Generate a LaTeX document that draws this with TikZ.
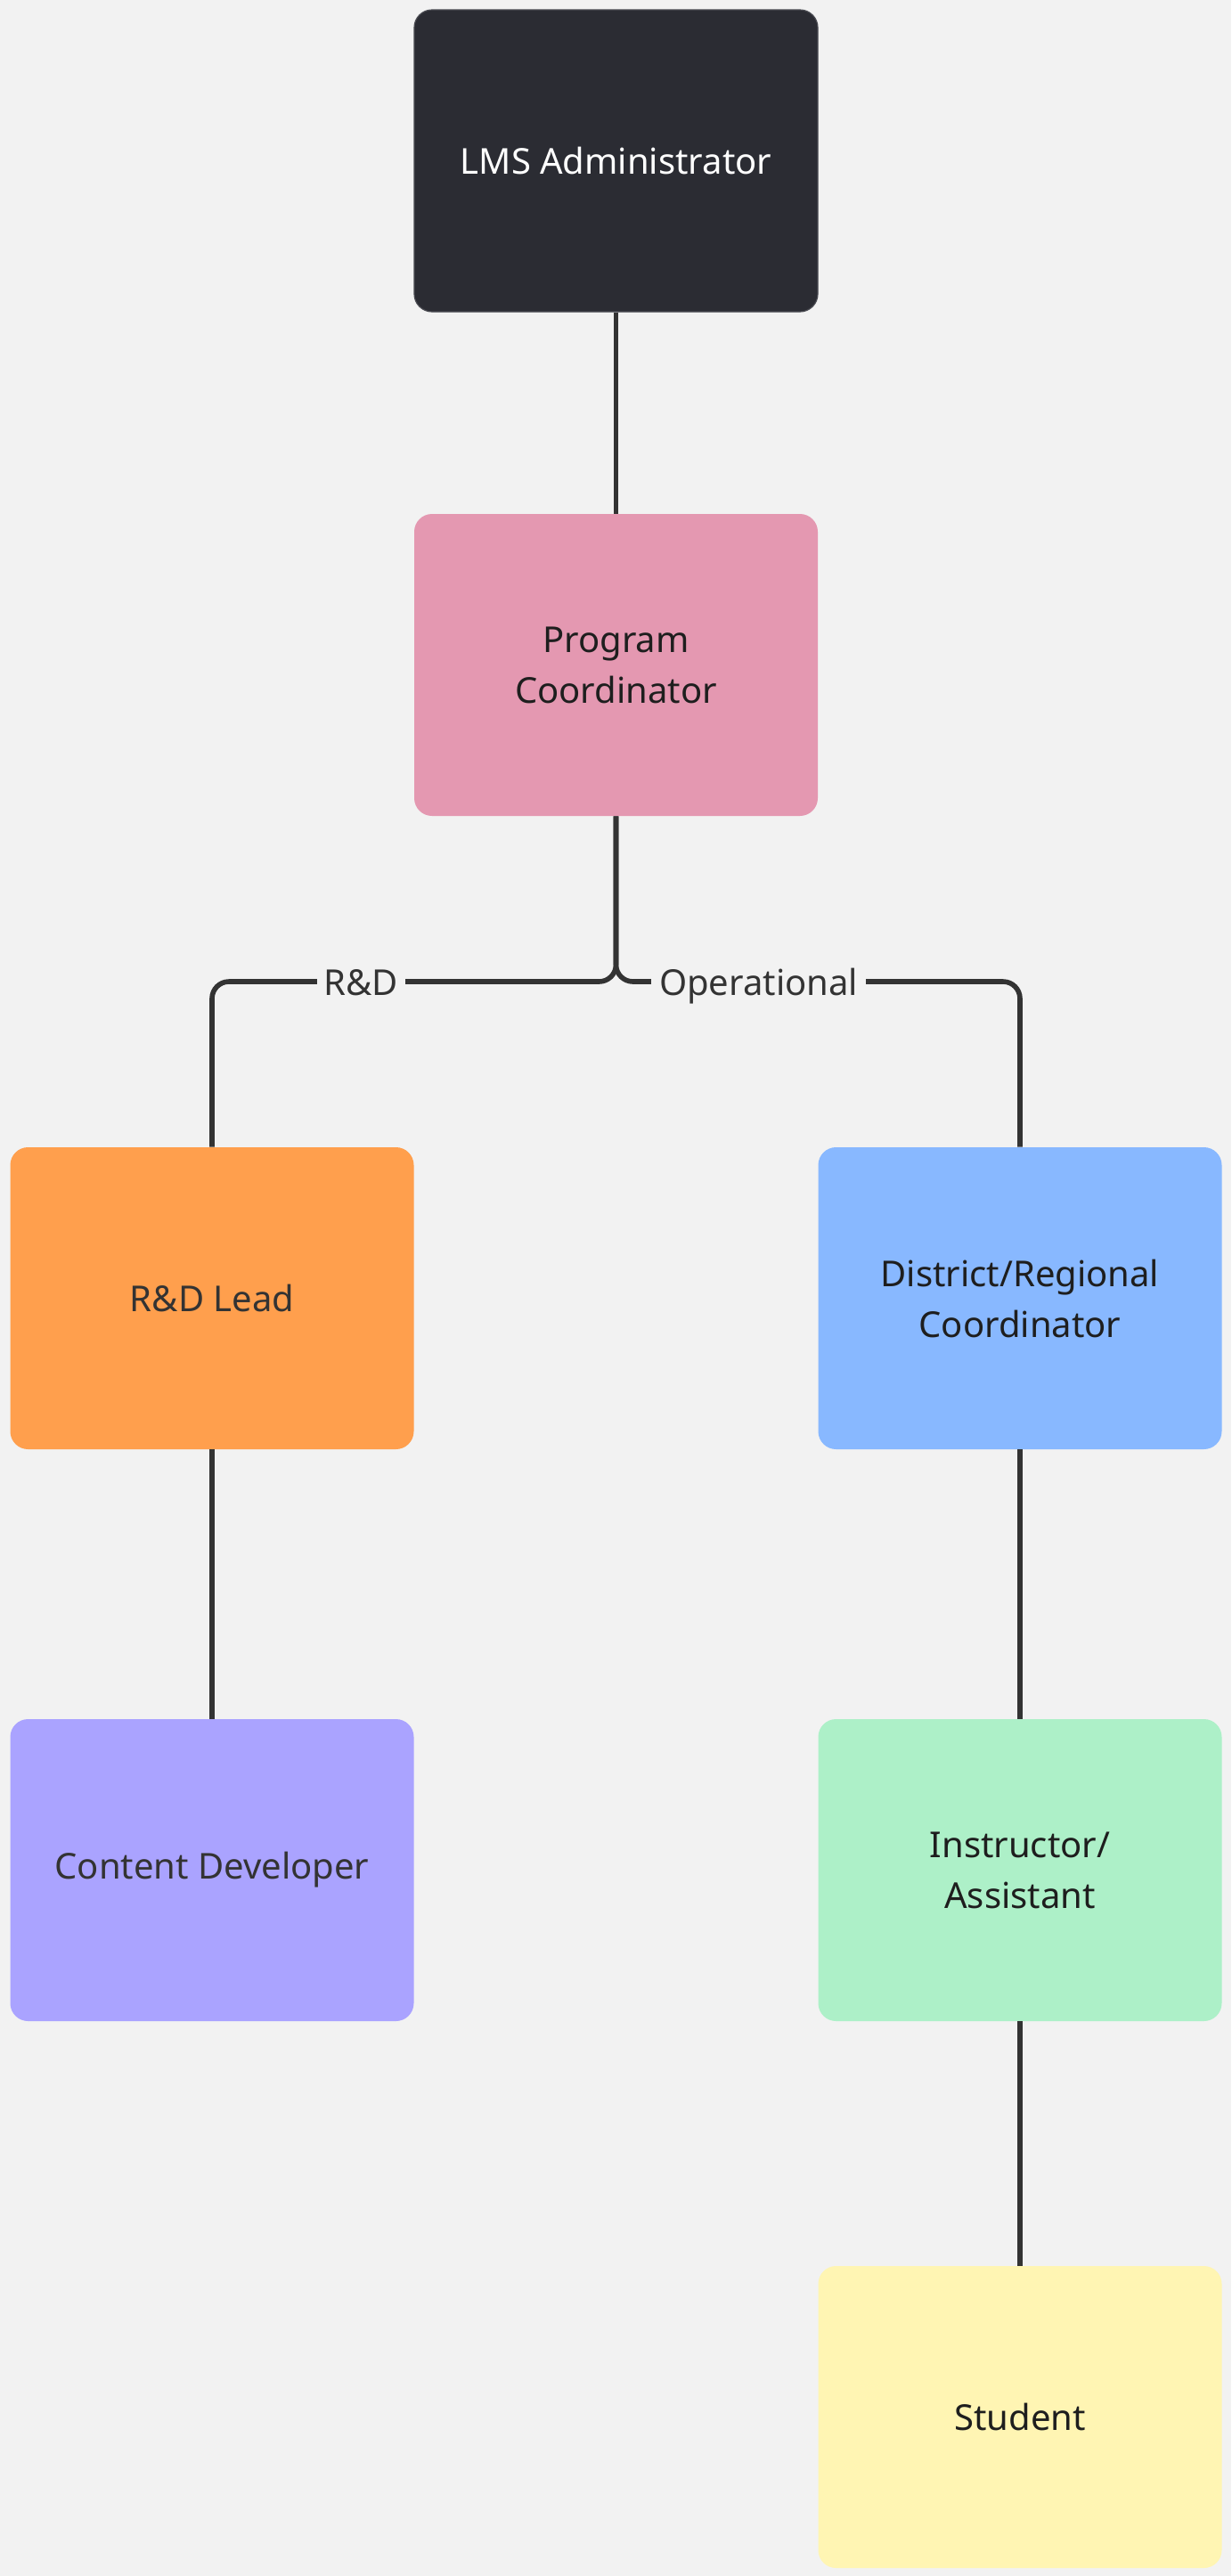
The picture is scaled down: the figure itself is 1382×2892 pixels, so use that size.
\documentclass[tikz,border=0pt]{standalone}
\usepackage{fontspec}
\setmainfont{Noto Sans}
\definecolor{bgc}{HTML}{F2F2F2}
\definecolor{adminc}{HTML}{2B2C33}
\definecolor{adminb}{HTML}{4A4B52}
\definecolor{progc}{HTML}{E498B1}
\definecolor{rdc}{HTML}{FF9F4D}
\definecolor{distc}{HTML}{88B8FF}
\definecolor{cdevc}{HTML}{AAA3FF}
\definecolor{instrc}{HTML}{ADF0C8}
\definecolor{studc}{HTML}{FFF5B3}
\definecolor{linec}{HTML}{333333}
\definecolor{txtdark}{HTML}{1E1E1E}
\definecolor{txtgray}{HTML}{333333}
\begin{document}
\begin{tikzpicture}[x=0.5pt,y=-0.5pt,
  box/.style={rectangle, rounded corners=10pt, minimum width=226.5pt, minimum height=169.5pt,
    inner sep=0pt, align=center, text=txtdark,
    font=\fontsize{20pt}{28.5pt}\selectfont},
  conn/.style={draw=linec, line width=2.8pt, rounded corners=9.5pt},
  lbl/.style={fill=bgc, inner sep=0pt, text depth=6pt, text height=17pt, anchor=base, text=txtgray,
    font=\fontsize{20pt}{28.5pt}\selectfont}]
\fill[bgc] (0,0) rectangle (1382,2892);
\useasboundingbox (0,0) rectangle (1382,2892);

\node[box, fill=adminc, draw=adminb, line width=0.6pt, text=white] (admin) at (691.5,180.5) {LMS Administrator};
\node[box, fill=progc] (prog) at (691.5,746.5) {Program\\Coordinator};
\node[box, fill=rdc, text=txtgray] (rd) at (238,1457.5) {R\&D Lead};
\node[box, fill=distc] (dist) at (1145,1457.5) {District/Regional\\Coordinator};
\node[box, fill=cdevc, text=txtgray] (cdev) at (238,2099.5) {Content Developer};
\node[box, fill=instrc] (instr) at (1145,2099.5) {Instructor/\\Assistant};
\node[box, fill=studc] (stud) at (1145,2713.5) {Student};

\coordinate (jy) at (691.5,1102);

\draw[conn] (admin.south) -- (prog.north);
\draw[conn] (prog.south) -- (prog.south |- jy) -- (rd.north |- jy) -- (rd.north);
\draw[conn] (prog.south) -- (prog.south |- jy) -- (dist.north |- jy) -- (dist.north);
\draw[conn] (rd.south) -- (cdev.north);
\draw[conn] (dist.south) -- (instr.north);
\draw[conn] (instr.south) -- (stud.north);

\node[lbl, minimum width=49.5pt] (lrd) at (405.5,1117) {R\&D};
\node[lbl, minimum width=120.5pt] (lop) at (851.5,1117) {Operational};
\end{tikzpicture}
\end{document}
